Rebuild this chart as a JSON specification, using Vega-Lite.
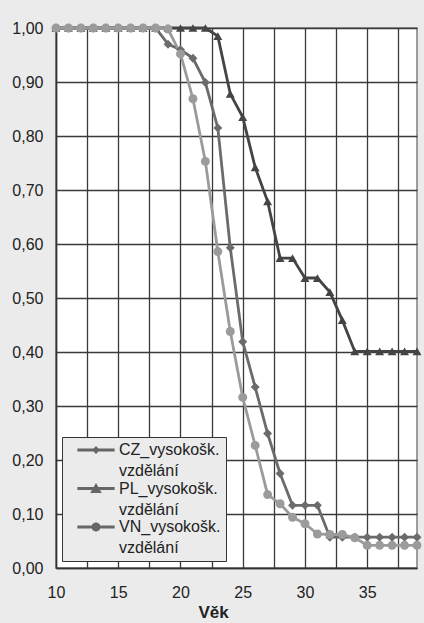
{
  "$schema": "https://vega.github.io/schema/vega-lite/v6.json",
  "autosize": {"type": "none"},
  "width": 361,
  "height": 540,
  "padding": {"left": 56, "top": 28, "right": 7, "bottom": 55},
  "background": "#ebebeb",
  "config": {
    "font": "Liberation Sans",
    "view": {"fill": "white", "stroke": "#808080", "strokeWidth": 1.5},
    "style": {"guide-label": {"lineHeight": 21}}
  },
  "data": {"values": [
    {"age": 10, "series": "CZ_vysokošk. vzdělání", "value": 1.0},
    {"age": 11, "series": "CZ_vysokošk. vzdělání", "value": 1.0},
    {"age": 12, "series": "CZ_vysokošk. vzdělání", "value": 1.0},
    {"age": 13, "series": "CZ_vysokošk. vzdělání", "value": 1.0},
    {"age": 14, "series": "CZ_vysokošk. vzdělání", "value": 1.0},
    {"age": 15, "series": "CZ_vysokošk. vzdělání", "value": 1.0},
    {"age": 16, "series": "CZ_vysokošk. vzdělání", "value": 1.0},
    {"age": 17, "series": "CZ_vysokošk. vzdělání", "value": 1.0},
    {"age": 18, "series": "CZ_vysokošk. vzdělání", "value": 1.0},
    {"age": 19, "series": "CZ_vysokošk. vzdělání", "value": 0.97},
    {"age": 20, "series": "CZ_vysokošk. vzdělání", "value": 0.96},
    {"age": 21, "series": "CZ_vysokošk. vzdělání", "value": 0.944},
    {"age": 22, "series": "CZ_vysokošk. vzdělání", "value": 0.899},
    {"age": 23, "series": "CZ_vysokošk. vzdělání", "value": 0.815},
    {"age": 24, "series": "CZ_vysokošk. vzdělání", "value": 0.593},
    {"age": 25, "series": "CZ_vysokošk. vzdělání", "value": 0.419},
    {"age": 26, "series": "CZ_vysokošk. vzdělání", "value": 0.335},
    {"age": 27, "series": "CZ_vysokošk. vzdělání", "value": 0.249},
    {"age": 28, "series": "CZ_vysokošk. vzdělání", "value": 0.175},
    {"age": 29, "series": "CZ_vysokošk. vzdělání", "value": 0.116},
    {"age": 30, "series": "CZ_vysokošk. vzdělání", "value": 0.116},
    {"age": 31, "series": "CZ_vysokošk. vzdělání", "value": 0.116},
    {"age": 32, "series": "CZ_vysokošk. vzdělání", "value": 0.057},
    {"age": 33, "series": "CZ_vysokošk. vzdělání", "value": 0.057},
    {"age": 34, "series": "CZ_vysokošk. vzdělání", "value": 0.057},
    {"age": 35, "series": "CZ_vysokošk. vzdělání", "value": 0.057},
    {"age": 36, "series": "CZ_vysokošk. vzdělání", "value": 0.057},
    {"age": 37, "series": "CZ_vysokošk. vzdělání", "value": 0.057},
    {"age": 38, "series": "CZ_vysokošk. vzdělání", "value": 0.057},
    {"age": 39, "series": "CZ_vysokošk. vzdělání", "value": 0.057},
    {"age": 10, "series": "PL_vysokošk. vzdělání", "value": 1.0},
    {"age": 11, "series": "PL_vysokošk. vzdělání", "value": 1.0},
    {"age": 12, "series": "PL_vysokošk. vzdělání", "value": 1.0},
    {"age": 13, "series": "PL_vysokošk. vzdělání", "value": 1.0},
    {"age": 14, "series": "PL_vysokošk. vzdělání", "value": 1.0},
    {"age": 15, "series": "PL_vysokošk. vzdělání", "value": 1.0},
    {"age": 16, "series": "PL_vysokošk. vzdělání", "value": 1.0},
    {"age": 17, "series": "PL_vysokošk. vzdělání", "value": 1.0},
    {"age": 18, "series": "PL_vysokošk. vzdělání", "value": 1.0},
    {"age": 19, "series": "PL_vysokošk. vzdělání", "value": 1.0},
    {"age": 20, "series": "PL_vysokošk. vzdělání", "value": 1.0},
    {"age": 21, "series": "PL_vysokošk. vzdělání", "value": 1.0},
    {"age": 22, "series": "PL_vysokošk. vzdělání", "value": 1.0},
    {"age": 23, "series": "PL_vysokošk. vzdělání", "value": 0.985},
    {"age": 24, "series": "PL_vysokošk. vzdělání", "value": 0.878},
    {"age": 25, "series": "PL_vysokošk. vzdělání", "value": 0.835},
    {"age": 26, "series": "PL_vysokošk. vzdělání", "value": 0.742},
    {"age": 27, "series": "PL_vysokošk. vzdělání", "value": 0.679},
    {"age": 28, "series": "PL_vysokošk. vzdělání", "value": 0.574},
    {"age": 29, "series": "PL_vysokošk. vzdělání", "value": 0.574},
    {"age": 30, "series": "PL_vysokošk. vzdělání", "value": 0.537},
    {"age": 31, "series": "PL_vysokošk. vzdělání", "value": 0.537},
    {"age": 32, "series": "PL_vysokošk. vzdělání", "value": 0.511},
    {"age": 33, "series": "PL_vysokošk. vzdělání", "value": 0.459},
    {"age": 34, "series": "PL_vysokošk. vzdělání", "value": 0.401},
    {"age": 35, "series": "PL_vysokošk. vzdělání", "value": 0.401},
    {"age": 36, "series": "PL_vysokošk. vzdělání", "value": 0.401},
    {"age": 37, "series": "PL_vysokošk. vzdělání", "value": 0.401},
    {"age": 38, "series": "PL_vysokošk. vzdělání", "value": 0.401},
    {"age": 39, "series": "PL_vysokošk. vzdělání", "value": 0.401},
    {"age": 10, "series": "VN_vysokošk. vzdělání", "value": 1.0},
    {"age": 11, "series": "VN_vysokošk. vzdělání", "value": 1.0},
    {"age": 12, "series": "VN_vysokošk. vzdělání", "value": 1.0},
    {"age": 13, "series": "VN_vysokošk. vzdělání", "value": 1.0},
    {"age": 14, "series": "VN_vysokošk. vzdělání", "value": 1.0},
    {"age": 15, "series": "VN_vysokošk. vzdělání", "value": 1.0},
    {"age": 16, "series": "VN_vysokošk. vzdělání", "value": 1.0},
    {"age": 17, "series": "VN_vysokošk. vzdělání", "value": 1.0},
    {"age": 18, "series": "VN_vysokošk. vzdělání", "value": 1.0},
    {"age": 19, "series": "VN_vysokošk. vzdělání", "value": 0.998},
    {"age": 20, "series": "VN_vysokošk. vzdělání", "value": 0.952},
    {"age": 21, "series": "VN_vysokošk. vzdělání", "value": 0.869},
    {"age": 22, "series": "VN_vysokošk. vzdělání", "value": 0.753},
    {"age": 23, "series": "VN_vysokošk. vzdělání", "value": 0.586},
    {"age": 24, "series": "VN_vysokošk. vzdělání", "value": 0.438},
    {"age": 25, "series": "VN_vysokošk. vzdělání", "value": 0.316},
    {"age": 26, "series": "VN_vysokošk. vzdělání", "value": 0.227},
    {"age": 27, "series": "VN_vysokošk. vzdělání", "value": 0.136},
    {"age": 28, "series": "VN_vysokošk. vzdělání", "value": 0.119},
    {"age": 29, "series": "VN_vysokošk. vzdělání", "value": 0.094},
    {"age": 30, "series": "VN_vysokošk. vzdělání", "value": 0.082},
    {"age": 31, "series": "VN_vysokošk. vzdělání", "value": 0.063},
    {"age": 32, "series": "VN_vysokošk. vzdělání", "value": 0.062},
    {"age": 33, "series": "VN_vysokošk. vzdělání", "value": 0.062},
    {"age": 34, "series": "VN_vysokošk. vzdělání", "value": 0.056},
    {"age": 35, "series": "VN_vysokošk. vzdělání", "value": 0.042},
    {"age": 36, "series": "VN_vysokošk. vzdělání", "value": 0.042},
    {"age": 37, "series": "VN_vysokošk. vzdělání", "value": 0.042},
    {"age": 38, "series": "VN_vysokošk. vzdělání", "value": 0.042},
    {"age": 39, "series": "VN_vysokošk. vzdělání", "value": 0.042}
  ]},
  "encoding": {
    "x": {
      "field": "age", "type": "quantitative",
      "scale": {"domain": [10, 39], "nice": false, "zero": false},
      "axis": {
        "values": [10, 12.5, 15, 17.5, 20, 22.5, 25, 27.5, 30, 32.5, 35, 37.5],
        "labelExpr": "datum.value % 5 === 0 ? datum.label : ''",
        "title": "Věk",
        "titleFontSize": 17, "titleFontWeight": "bold", "titleColor": "#222",
        "titleX": 157, "titleY": 49, "titleBaseline": "alphabetic", "titleAlign": "center", "titleAnchor": "middle",
        "labelFontSize": 16, "labelColor": "#222", "labelPadding": 16, "labelFlush": false,
        "ticks": false,
        "domainColor": "#333", "domainWidth": 1.5,
        "gridColor": "#3a3a3a", "gridWidth": 1.3, "gridOpacity": 1
      }
    },
    "y": {
      "field": "value", "type": "quantitative",
      "scale": {"domain": [0, 1], "nice": false},
      "axis": {
        "values": [0, 0.1, 0.2, 0.3, 0.4, 0.5, 0.6, 0.7, 0.8, 0.9, 1.0],
        "labelExpr": "replace(format(datum.value, '.2f'), '.', ',')",
        "title": null,
        "labelFontSize": 16, "labelColor": "#222", "labelPadding": 13,
        "ticks": false,
        "domainColor": "#333", "domainWidth": 1.5,
        "gridColor": "#3a3a3a", "gridWidth": 1.3, "gridOpacity": 1
      }
    },
    "color": {
      "field": "series", "type": "nominal",
      "scale": {
        "domain": ["CZ_vysokošk. vzdělání", "PL_vysokošk. vzdělání", "VN_vysokošk. vzdělání"],
        "range": ["#6b6b6b", "#444444", "#9b9b9b"]
      },
      "legend": null
    }
  },
  "resolve": {"scale": {"shape": "independent"}},
  "layer": [
    {
      "mark": {"type": "line", "strokeWidth": 2.8}
    },
    {
      "mark": {"type": "point", "filled": true, "opacity": 1, "strokeWidth": 0},
      "encoding": {
        "shape": {
          "field": "series", "type": "nominal",
          "scale": {
            "domain": ["CZ_vysokošk. vzdělání", "PL_vysokošk. vzdělání", "VN_vysokošk. vzdělání"],
            "range": ["diamond", "triangle-up", "circle"]
          },
          "legend": null
        },
        "size": {"value": 80}
      }
    },
    {
      "mark": {"type": "point", "filled": true, "opacity": 0, "strokeWidth": 0},
      "encoding": {
        "shape": {
          "field": "series", "type": "nominal",
          "scale": {
            "domain": ["CZ_vysokošk. vzdělání", "PL_vysokošk. vzdělání", "VN_vysokošk. vzdělání"],
            "range": [
              "M-2.33,-0.19H2.33V0.19H-2.33ZM0,-0.5L0.5,0L0,0.5L-0.5,0Z",
              "M-2.33,-0.19H2.33V0.19H-2.33ZM0,-0.7L0.72,0.56L-0.72,0.56Z",
              "M-2.33,-0.19H2.33V0.19H-2.33ZM0.6,0L0.42,0.42L0,0.6L-0.42,0.42L-0.6,0L-0.42,-0.42L0,-0.6L0.42,-0.42Z"
            ]
          },
          "legend": {
            "title": null,
            "orient": "none",
            "legendX": 6,
            "legendY": 409,
            "padding": 5,
            "fillColor": "#ebebeb",
            "strokeColor": "#333333",
            "cornerRadius": 0,
            "symbolSize": 256,
            "symbolOpacity": 1,
            "symbolFillColor": "#666666",
            "symbolStrokeWidth": 0,
            "symbolOffset": 21,
            "labelOffset": 15,
            "labelFontSize": 16,
            "labelColor": "#222",
            "labelLimit": 400,
            "labelBaseline": "middle",
            "rowPadding": 1.5,
            "labelExpr": "[split(datum.label, ' ')[0] + '\u00a0\u00a0', split(datum.label, ' ')[1]]"
          }
        },
        "size": {"value": 80}
      }
    }
  ]
}
